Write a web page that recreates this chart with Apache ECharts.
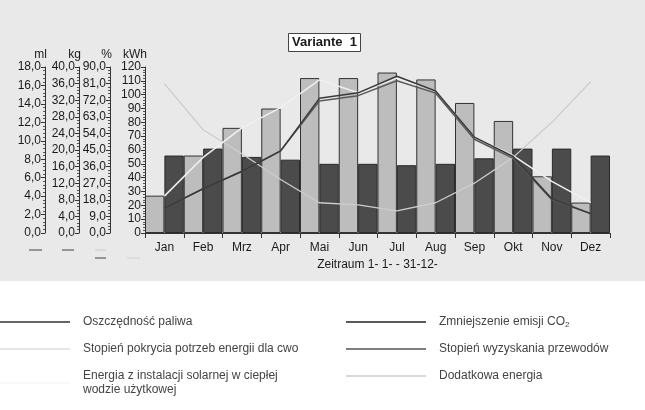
<!DOCTYPE html>
<html>
<head>
<meta charset="utf-8">
<script src="https://cdn.jsdelivr.net/npm/echarts@6/dist/echarts.min.js"></script>
<style>html,body{margin:0;padding:0;background:#fff}#c{width:645px;height:410px}</style>
</head>
<body>
<div id="c"></div>
<script>
// ---- data ----
const categories = ['Jan','Feb','Mrz','Apr','Mai','Jun','Jul','Aug','Sep','Okt','Nov','Dez'];
const solarEnergy = [27, 56, 76, 90, 112, 112, 116, 111, 94, 81, 41, 22];          // kWh
const extraEnergy = [56, 61, 55, 53, 50, 50, 49, 50, 54, 61, 61, 56];               // kWh
const fuelSaving = [2.7, 4.8, 6.7, 8.9, 14.6, 15.2, 17.0, 15.4, 10.4, 8.3, 3.7, 2.1]; // ml
const co2Reduction = [6.0, 10.7, 14.8, 19.8, 31.8, 33.1, 36.7, 33.7, 22.6, 18.0, 8.0, 4.7]; // kg
const coverage = [20, 41, 57, 68, 83, 76, 84, 77, 52, 42, 28, 16.5];                // %
const utilization = [81, 56, 43, 29, 16.4, 15.2, 12, 16.4, 27, 41, 60, 82];         // %

const N_FUEL = 'Oszczędność paliwa';
const N_CO2 = 'Zmniejszenie emisji CO2';
const N_COV = 'Stopień pokrycia potrzeb energii dla cwo';
const N_UTIL = 'Stopień wyzyskania przewodów';
const N_SOLAR = 'Energia z instalacji solarnej w ciepłej\nwodzie użytkowej';
const N_EXTRA = 'Dodatkowa energia';

const FONT = 'Liberation Sans, Arial, sans-serif';
const comma1 = v => v.toFixed(1).replace('.', ',');

function yAx(name, max, interval, offset, fmt) {
  return {
    type: 'value', position: 'left', offset: offset, min: 0, max: max, interval: interval,
    name: name, nameLocation: 'end', nameGap: 6,
    nameTextStyle: { color: '#1a1a1a', fontFamily: FONT, fontSize: 12, align: 'right', padding: [0, -2, 0, 0] },
    axisLine: { show: true, lineStyle: { color: '#333', width: 1 } },
    axisTick: { show: true, length: 4, lineStyle: { color: '#333' } },
    minorTick: { show: true, splitNumber: 5, length: 2, lineStyle: { color: '#555' } },
    splitLine: { show: false },
    axisLabel: { color: '#1a1a1a', fontFamily: FONT, fontSize: 12, margin: 4, formatter: fmt }
  };
}

const chart = echarts.init(document.getElementById('c'), null, { renderer: 'canvas' });
const legendText = { color: '#444', fontFamily: FONT, fontSize: 12, lineHeight: 14, padding: [0, 0, 0, 8],
  rich: { sub: { fontSize: 8, fontFamily: FONT, color: '#444', padding: [6, 0, 0, 0] } } };

chart.setOption({
  animation: false,
  backgroundColor: { type: 'linear', x: 0, y: 0, x2: 0, y2: 1, colorStops: [
    { offset: 0, color: '#e9e9e9' }, { offset: 0.685, color: '#e9e9e9' },
    { offset: 0.685, color: '#ffffff' }, { offset: 1, color: '#ffffff' }] },
  title: {
    text: 'Variante  1', left: 288, top: 33,
    backgroundColor: '#fff', borderColor: '#444', borderWidth: 1, padding: [3, 4, 3, 4],
    textStyle: { fontFamily: FONT, fontSize: 13, fontWeight: 'bold', color: '#1a1a1a' }
  },
  grid: { left: 145, right: 35, top: 67, bottom: 177 },
  xAxis: {
    type: 'category', data: categories, boundaryGap: true,
    name: 'Zeitraum 1- 1- - 31-12-', nameLocation: 'middle', nameGap: 26,
    nameTextStyle: { color: '#1a1a1a', fontFamily: FONT, fontSize: 12 },
    axisLine: { lineStyle: { color: '#333' } },
    axisTick: { show: true, length: 5, lineStyle: { color: '#333' } },
    axisLabel: { color: '#1a1a1a', fontFamily: FONT, fontSize: 12, margin: 9 }
  },
  yAxis: [
    yAx('kWh', 120, 10, 0, v => String(v)),
    yAx('%', 90, 9, 35, comma1),
    yAx('kg', 40, 4, 66, comma1),
    yAx('ml', 18, 2, 100, comma1)
  ],
  legend: [
    { orient: 'vertical', left: 0, top: 315, padding: 0, itemGap: 13, itemWidth: 70, itemHeight: 1.5,
      textStyle: legendText, selectedMode: false,
      data: [
        { name: N_FUEL, icon: 'rect', itemStyle: { color: '#333', borderWidth: 0 } },
        { name: N_COV, icon: 'rect', itemStyle: { color: '#ddd', borderWidth: 0 } },
        { name: N_SOLAR, icon: 'rect', itemStyle: { color: '#f6f6f6', borderWidth: 0 } }
      ] },
    { orient: 'vertical', left: 346, top: 315, padding: 0, itemGap: 13, itemWidth: 80, itemHeight: 1.5,
      textStyle: legendText, selectedMode: false,
      formatter: n => n === N_CO2 ? 'Zmniejszenie emisji CO{sub|2}' : n,
      data: [
        { name: N_CO2, icon: 'rect', itemStyle: { color: '#222', borderWidth: 0 } },
        { name: N_UTIL, icon: 'rect', itemStyle: { color: '#555', borderWidth: 0 } },
        { name: N_EXTRA, icon: 'rect', itemStyle: { color: '#ccc', borderWidth: 0 } }
      ] }
  ],
  graphic: [
    { type: 'line', shape: { x1: 29, y1: 250, x2: 42, y2: 250 }, style: { stroke: '#444', lineWidth: 1 } },
    { type: 'line', shape: { x1: 62, y1: 250, x2: 74, y2: 250 }, style: { stroke: '#444', lineWidth: 1 } },
    { type: 'line', shape: { x1: 95, y1: 250, x2: 106, y2: 250 }, style: { stroke: '#ccc', lineWidth: 1 } },
    { type: 'line', shape: { x1: 95, y1: 258, x2: 106, y2: 258 }, style: { stroke: '#444', lineWidth: 1 } },
    { type: 'line', shape: { x1: 127, y1: 258, x2: 140, y2: 258 }, style: { stroke: '#d0d0d0', lineWidth: 1 } }
  ],
  series: [
    { name: N_SOLAR, type: 'bar', yAxisIndex: 0, data: solarEnergy, barGap: '0%', barCategoryGap: '0%',
      itemStyle: { color: '#bdbdbd', borderColor: '#333', borderWidth: 1 }, z: 2 },
    { name: N_EXTRA, type: 'bar', yAxisIndex: 0, data: extraEnergy, barGap: '0%', barCategoryGap: '0%',
      itemStyle: { color: '#4b4b4b', borderColor: '#2a2a2a', borderWidth: 1 }, z: 2 },
    { name: N_UTIL, type: 'line', yAxisIndex: 1, data: utilization, symbol: 'none',
      lineStyle: { color: '#cdcdcd', width: 1.3 }, itemStyle: { color: '#cdcdcd' }, z: 3 },
    { name: N_COV, type: 'line', yAxisIndex: 1, data: coverage, symbol: 'none',
      lineStyle: { color: '#f0f0f0', width: 1.5 }, itemStyle: { color: '#f0f0f0' }, z: 4 },
    { name: N_CO2, type: 'line', yAxisIndex: 2, data: co2Reduction, symbol: 'none',
      lineStyle: { color: '#5a5a5a', width: 1.5 }, itemStyle: { color: '#5a5a5a' }, z: 5 },
    { name: N_FUEL, type: 'line', yAxisIndex: 3, data: fuelSaving, symbol: 'none',
      lineStyle: { color: '#3a3a3a', width: 1.5 }, itemStyle: { color: '#3a3a3a' }, z: 6 }
  ]
});
</script>
</body>
</html>
